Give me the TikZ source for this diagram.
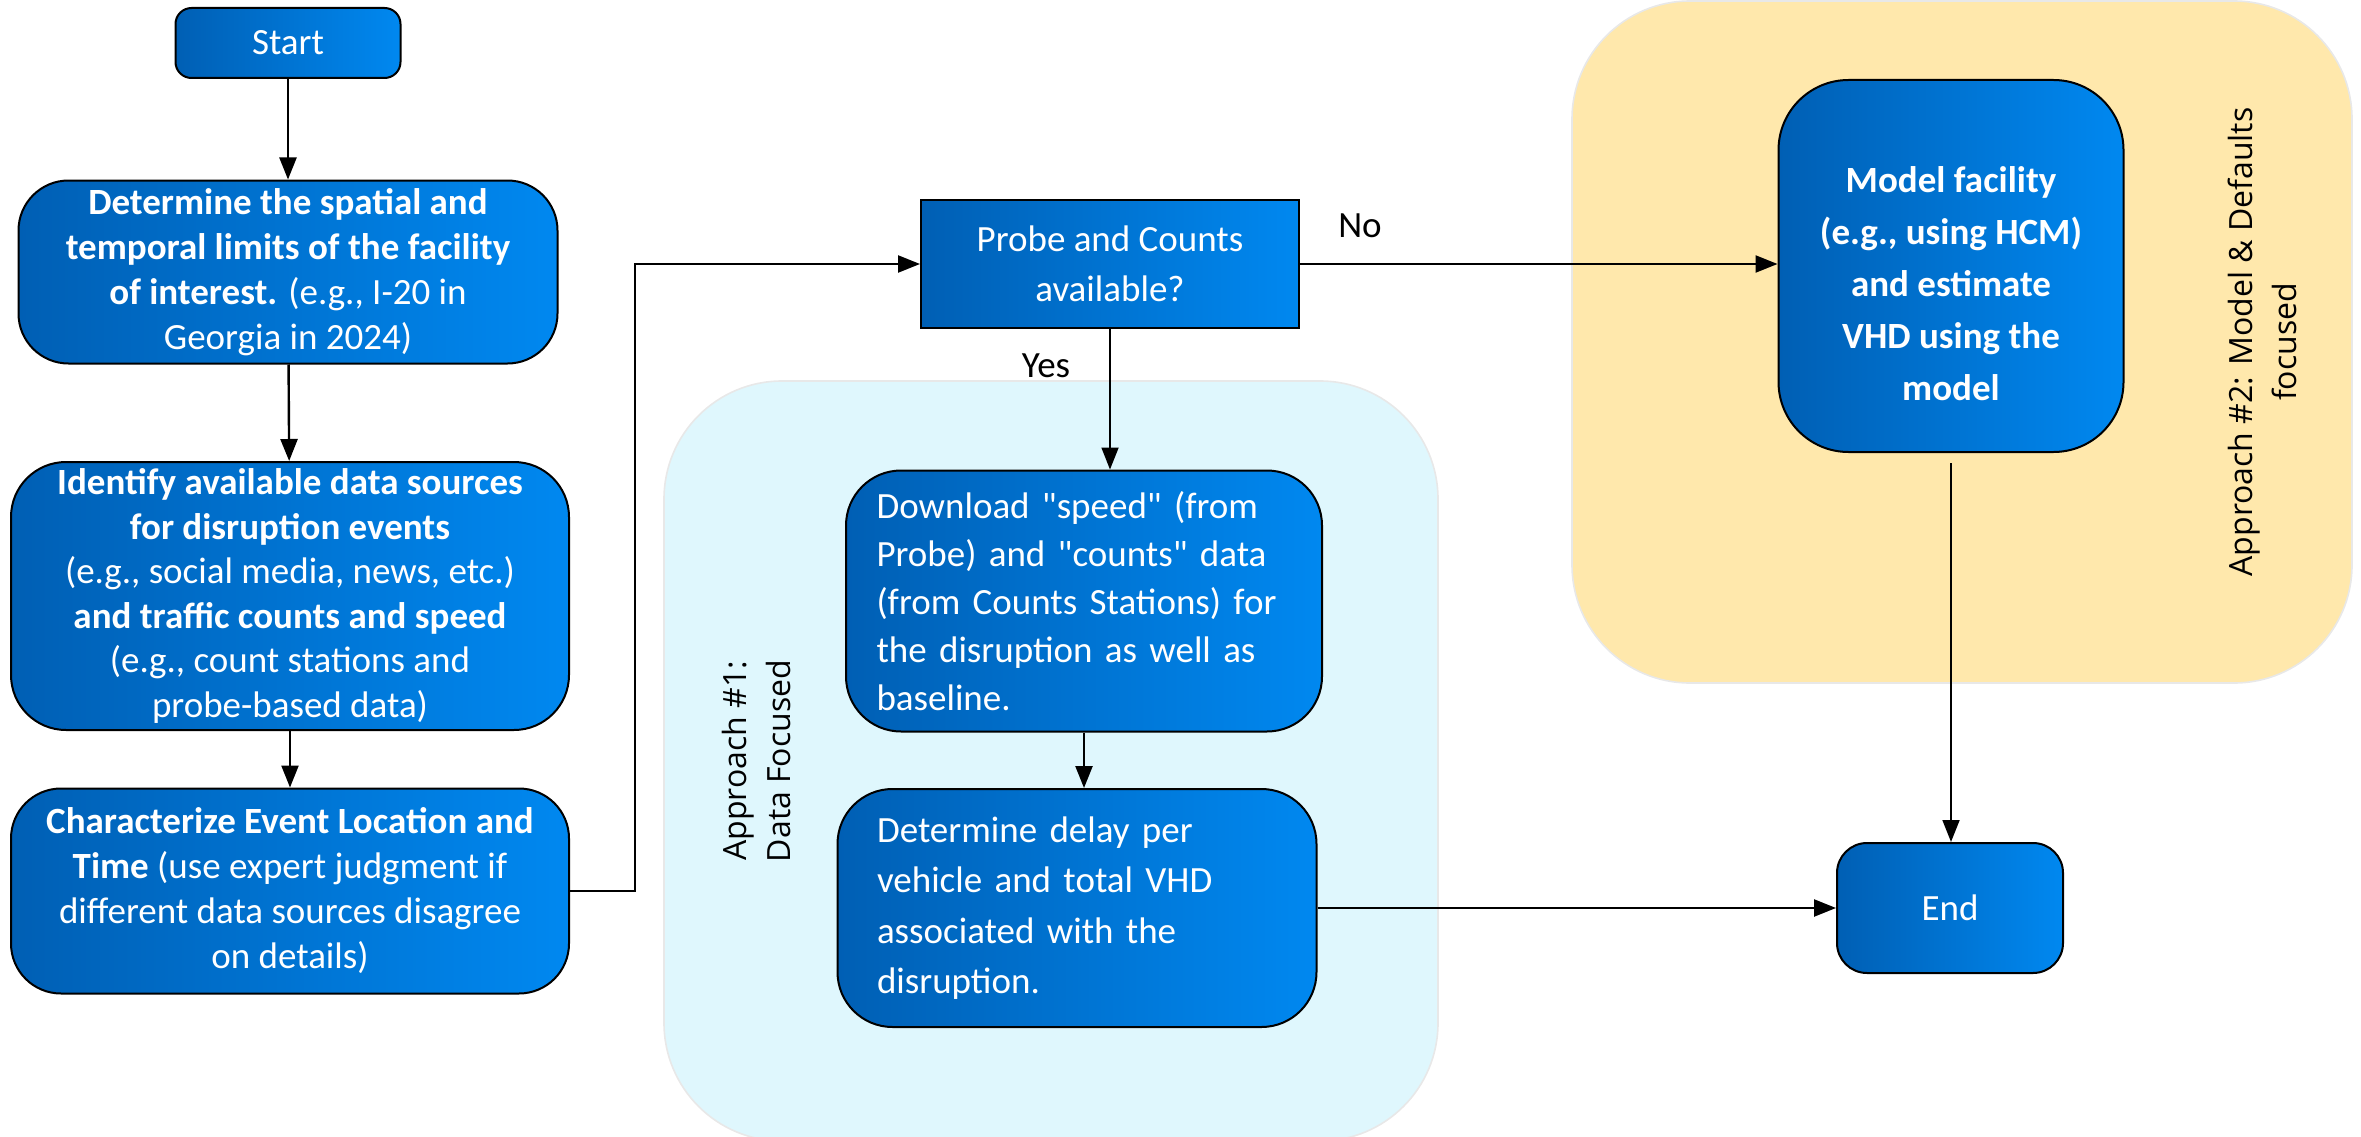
\documentclass[tikz,border=0pt]{standalone}
\usepackage{fontspec}
\setmainfont{Carlito}[Ligatures=TeXOff]
\newfontfamily\tagfont{Open Sans}
\usetikzlibrary{arrows.meta}
\definecolor{boxdark}{HTML}{005FB4}
\definecolor{boxlight}{HTML}{0088F0}
\definecolor{panelblue}{HTML}{DFF7FD}
\definecolor{panelyellow}{HTML}{FFE8AC}
\tikzset{
  stepbox/.style={draw=black, line width=2pt, left color=boxdark, right color=boxlight,
    text=white, font=\fontsize{37}{45}\selectfont, align=center, inner sep=0pt},
  boxtext/.style={text=white, align=center, inner sep=0pt},
  flow/.style={draw=black, line width=2.4pt, -{Triangle[length=22pt,width=17pt]}},
  thinflow/.style={flow, line width=1.8pt},
  panel/.style={draw=black!9, line width=1.6pt, rounded corners=118pt, inner sep=0pt},
  tag/.style={font=\tagfont\fontsize{32}{44}\selectfont, align=center, rotate=90},
  answer/.style={font=\fontsize{37}{45}\selectfont, inner sep=0pt}
}
\begin{document}
\begin{tikzpicture}[x=1pt,y=-1pt]
\useasboundingbox (0,0) rectangle (2361,1137);

% background panels for the two approaches
\node[panel, fill=panelblue, minimum width=774pt, minimum height=760pt] (panelA) at (1051,761) {};
\node[panel, fill=panelyellow, minimum width=780pt, minimum height=682pt] (panelB) at (1962,342) {};
\node[tag] (tagA) at (756,761) {Approach \#1:\\Data Focused};
\node[tag] (tagB) at (2262,342) {Approach \#2: Model \& Defaults\\focused};

% process steps
\node[stepbox, rounded corners=16pt, minimum width=225pt, minimum height=70pt] (start) at (288,43) {Start};
\node[stepbox, rounded corners=50pt, minimum width=539pt, minimum height=183pt] (limits) at (288,272)
  {\textbf{Determine the spatial and}\\\textbf{temporal limits of the facility}\\\textbf{of interest.} (e.g., I-20 in\\Georgia in 2024)};
\node[stepbox, rounded corners=55pt, minimum width=558pt, minimum height=268pt, font=\fontsize{37}{44.5}\selectfont] (sources) at (290,596)
  {\textbf{Identify available data sources}\\\textbf{for disruption events}\\(e.g., social media, news, etc.)\\\textbf{and traffic counts and speed}\\(e.g., count stations and\\probe-based data)};
\node[stepbox, rounded corners=50pt, minimum width=558pt, minimum height=205pt] (event) at (290,891)
  {\textbf{Characterize Event Location and}\\\textbf{Time} (use expert judgment if\\different data sources disagree\\on details)};
\node[stepbox, minimum width=378pt, minimum height=128pt, font=\fontsize{37}{50}\selectfont] (probe) at (1110,264)
  {Probe and Counts\\available?};
\node[stepbox, rounded corners=55pt, minimum width=476pt, minimum height=261pt, text width=415pt, align=left, font=\fontsize{37}{48}\selectfont] (download) at (1084,601)
  {Download "speed" (from\\Probe) and "counts" data\\(from Counts Stations) for\\the disruption as well as\\baseline.};
\node[stepbox, rounded corners=55pt, minimum width=479pt, minimum height=238pt, text width=400pt, align=left, font=\fontsize{37}{50.5}\selectfont] (delay) at (1077,908)
  {Determine delay per\\vehicle and total VHD\\associated with the\\disruption.};
\node[stepbox, rounded corners=70pt, minimum width=345pt, minimum height=372pt] (model) at (1951,266) {};
\node[boxtext, font=\bfseries\fontsize{37}{52}\selectfont] (modeltext) at ([yshift=-18pt]model.center)
  {Model facility\\(e.g., using HCM)\\and estimate\\VHD using the\\model};
\node[stepbox, rounded corners=30pt, minimum width=226pt, minimum height=130pt] (end) at (1950,908) {End};

% connectors
\draw[flow] (start) -- (limits);
\draw[flow] (limits) -- (sources);
\draw[flow] (sources) -- (event);
\draw[flow] (event.east) -- ++(65,0) |- (probe.west);
\draw[flow] (probe.east) -- (probe.east -| model.west);
\draw[thinflow] (probe.south) -- (probe.south |- download.north);
\draw[flow] (download.south) -- (download.south |- delay.north);
\draw[flow] (delay.east) -- (end.west);
\coordinate (modelexit) at ([yshift=-10pt]model.south);
\draw[thinflow] (modelexit) -- (modelexit |- end.north);

% branch labels
\node[answer] (no) at (1360,226) {No};
\node[answer] (yes) at (1046,366) {Yes};
\end{tikzpicture}
\end{document}
